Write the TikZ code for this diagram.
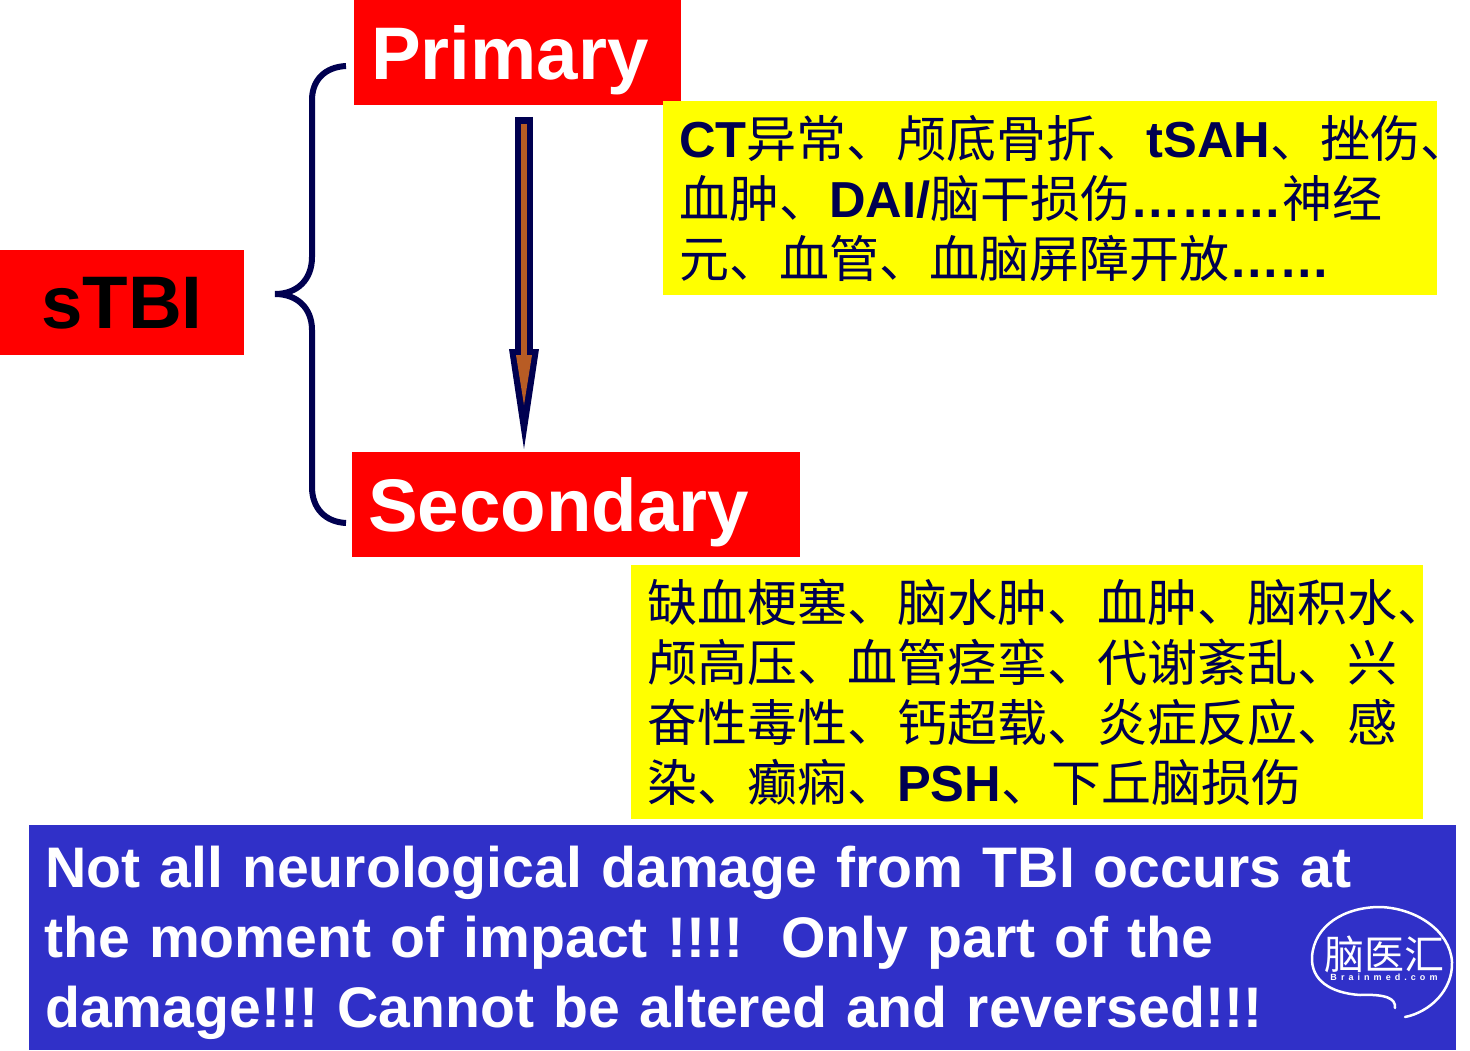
\documentclass[tikz,border=0pt]{standalone}
\usepackage{fontspec}
\setmainfont{Liberation Sans}
\newfontfamily\cjk{Noto Sans CJK SC}
\newfontfamily\smallmark[LetterSpace=45]{Liberation Sans}
\usetikzlibrary{arrows.meta}
\definecolor{darknavy}{RGB}{0,0,80}
\definecolor{slideblue}{RGB}{48,48,200}
\definecolor{slidered}{RGB}{255,0,0}
\definecolor{slideyellow}{RGB}{255,255,0}
\definecolor{arrowbrown}{RGB}{184,92,36}
\newcommand{\lat}[1]{{\rmfamily\bfseries\fontsize{50.6}{60}\selectfont #1}}
\tikzset{
    redbox/.style={fill=slidered,anchor=north west,inner sep=0pt,align=left,minimum height=105pt,text depth=0pt,font=\bfseries\fontsize{74.5}{74.5}\selectfont},
    yellowbox/.style={fill=slideyellow,anchor=north west,inner sep=0pt,align=left,text=darknavy,font=\cjk\fontsize{50}{60}\selectfont},
}

\begin{document}
\frenchspacing
\begin{tikzpicture}[x=1pt,y=-1pt]
    \useasboundingbox (0,0) rectangle (1470,1051);
    \node[redbox,text width=244pt,text height=51pt,text=black] (stbi) at (0,250) {\hspace*{41pt}sTBI};
    \node[redbox,text width=327pt,text height=54.5pt,text=white] (primary) at (354,0) {\hspace*{17pt}Primary};
    \node[redbox,text width=448pt,text height=54.5pt,text=white] (secondary) at (352,452) {\hspace*{16pt}Secondary};
    \node[yellowbox,minimum height=194pt,text width=774pt] (early) at (663,101) {\hspace*{16pt}\lat{CT}异常、颅底骨折、\lat{tSAH}、挫伤、\\
        \hspace*{16pt}血肿、\lat{DAI/}脑干损伤\lat{………}神经\\
        \hspace*{16pt}元、血管、血脑屏障开放\lat{……}};
    \node[yellowbox,minimum height=254pt,text width=792pt] (late) at (631,565) {\hspace*{16pt}缺血梗塞、脑水肿、血肿、脑积水、\\
        \hspace*{16pt}颅高压、血管痉挛、代谢紊乱、兴\\
        \hspace*{16pt}奋性毒性、钙超载、炎症反应、感\\
        \hspace*{16pt}染、癫痫、\lat{PSH}、下丘脑损伤};
    \node[fill=slideblue,anchor=north west,inner sep=0pt,minimum height=225pt,text width=1427pt,align=left,text=white,font=\bfseries\fontsize{57.2}{70}\selectfont] (note) at (29,825) {\rule{0pt}{51pt}\hspace*{16pt}Not all neurological damage from TBI occurs at\\
        \hspace*{15pt}the moment of impact !!!!\ \ Only part of the\\
        \hspace*{16pt}damage!!! Cannot be altered and reversed!!!};
    % brace
    \coordinate (bracetop) at (346,66);
    \coordinate (bracetip) at (275,294);
    \coordinate (bracebot) at (346,523);
    \draw[darknavy,line width=6pt] (bracetop) .. controls (325,67) and (312,80) .. (312,100) -- (312,257)
        .. controls (312,280) and (297,294) .. (bracetip) .. controls (297,294) and (312,308) .. (312,330)
        -- (312,487) .. controls (312,508) and (325,522) .. (bracebot);
    % arrow
    \coordinate (arrowtop) at (524,117);
    \coordinate (arrowtip) at (524,449);
    \coordinate (innertop) at (524,124);
    \coordinate (innertip) at (524,405);
    \draw[darknavy,line width=18pt,-{Triangle[length=100pt,width=30pt,line width=0pt]}] (arrowtop) -- (arrowtip);
    \draw[arrowbrown,line width=6pt,-{Triangle[length=50pt,width=16pt,line width=0pt]}] (innertop) -- (innertip);
    % logo
    \draw[white,line width=2.5pt,line cap=round] (1395,1008) .. controls (1396,998) and (1385,994) .. (1360,995)
        .. controls (1330,993) and (1311,980) .. (1312,957) .. controls (1314,925) and (1345,907) .. (1380,907)
        .. controls (1415,908) and (1450,930) .. (1452,962) .. controls (1453,990) and (1430,1012) .. (1405,1017);
    \node[text=white,inner sep=0pt,font=\cjk\fontsize{40}{40}\selectfont] (logotext) at (1384,954) {脑医汇};
    \node[text=white,inner sep=0pt,font=\smallmark\bfseries\fontsize{9}{9}\selectfont] (logourl) at (1384,977) {Brainmed.com};
\end{tikzpicture}
\end{document}
